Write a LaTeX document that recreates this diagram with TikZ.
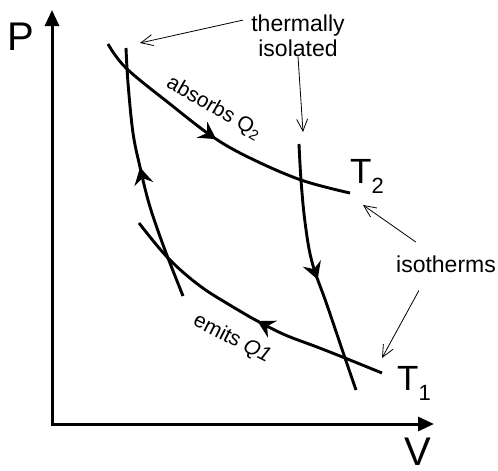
\documentclass[tikz,border=0pt]{standalone}
\usepackage{fontspec}
\setmainfont{Liberation Sans}
\usetikzlibrary{arrows.meta,decorations.markings}
\begin{document}
\begin{tikzpicture}[x=1pt,y=-1pt,
  axis/.style={line width=3pt,line join=miter,{Triangle[length=16pt,width=14pt]}-{Triangle[length=16pt,width=14pt]}},
  curve/.style={line width=2.9pt},
  note/.style={line width=0.8pt,-{Straight Barb[length=12pt,width=11pt]}},
  lbl/.style={inner sep=0pt,font=\fontsize{23}{27}\selectfont},
  slbl/.style={inner sep=0pt,font=\fontsize{21}{25}\selectfont},
  big/.style={inner sep=0pt,font=\fontsize{40}{44}\selectfont},
  temp/.style={inner sep=0pt,font=\fontsize{35}{40}\selectfont},
  midarrow/.style={postaction={decorate},decoration={markings,mark=at position #1 with {\arrow{Stealth[length=17pt,width=19pt,inset=6pt]}}}}
]
\useasboundingbox (0,0) rectangle (498,471);

% axes
\coordinate (O) at (52,424);
\coordinate (Ptip) at (52,10);
\coordinate (Vtip) at (434,424);
\draw[axis] (Ptip) -- (O) -- (Vtip);
\node[big,anchor=base west] (P) at (7,50) {P};
\node[big,anchor=base west] (V) at (404,465) {V};

% isotherms
\draw[curve,midarrow=0.5] plot[smooth,tension=0.6] coordinates
  {(108,44) (126,68) (170,104) (213,137) (250,158) (301,180) (350,193)};
\draw[curve,midarrow=0.465] plot[smooth,tension=0.6] coordinates
  {(382,373) (345,358) (317,347) (283,334) (250,317) (233,307) (200,286) (168,258) (139,223)};

% adiabats
\draw[curve,midarrow=0.53] plot[smooth,tension=0.6] coordinates
  {(183,296) (168,258) (157,228) (148,200) (140,167) (133,133) (128,83) (126,48)};
\draw[curve,midarrow=0.54] plot[smooth,tension=0.6] coordinates
  {(299,144) (301,180) (305,222) (312,262) (327,305) (345,358) (356,390)};

% temperatures
\node[temp,anchor=base west] (T2) at (350,183) {T\raisebox{-10pt}{\fontsize{22}{22}\selectfont 2}};
\node[temp,anchor=base west] (T1) at (397,390) {T\raisebox{-10pt}{\fontsize{22}{22}\selectfont 1}};

% curve labels
\node[slbl,rotate=-30] (abs) at (214,108) {absorbs Q\textsubscript{2}};
\node[slbl,rotate=-27] (emi) at (232,339) {emits \textit{Q1}};

% notes
\node[lbl,anchor=base] (therm) at (298,31) {thermally};
\node[lbl,anchor=base] (iso) at (298,56) {isolated};
\coordinate (ta) at (140,43);
\coordinate (tb) at (303,132);
\draw[note] ([shift={(-8,-5)}]therm.west) -- (ta);
\draw[note] (iso.south) -- (tb);

\node[lbl,anchor=base] (isot) at (446,272) {isotherms};
\coordinate (ia) at (363,205);
\coordinate (ib) at (382,358);
\draw[note] ([xshift=20pt,yshift=13pt]isot.north west) -- (ia);
\draw[note] ([xshift=23pt,yshift=-18pt]isot.south west) -- (ib);
\end{tikzpicture}
\end{document}
